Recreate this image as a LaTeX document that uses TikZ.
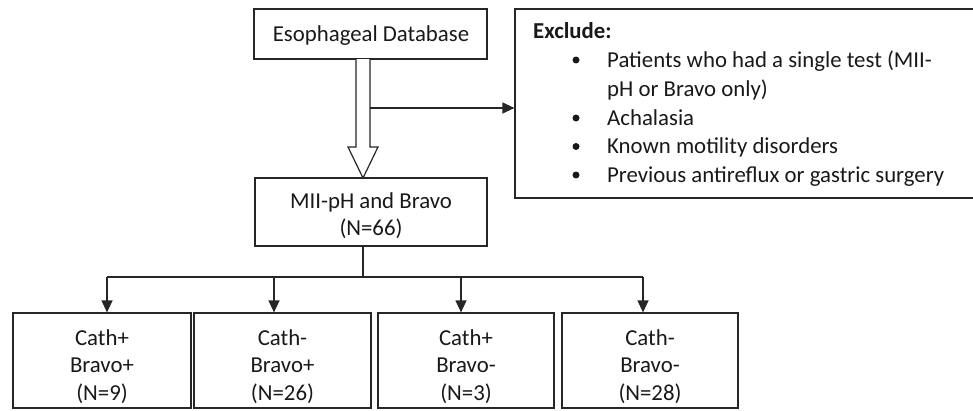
\documentclass[tikz,border=0pt]{standalone}
\usepackage{fontspec}
\setmainfont{Carlito}
\usetikzlibrary{arrows.meta,calc}
\begin{document}
\begin{tikzpicture}[x=1pt,y=-1pt,
  every node/.style={font=\fontsize{22.8}{27.5}\selectfont, text=black!90},
  box/.style={draw=black!85, line width=1.2pt, rectangle, inner sep=0pt, align=center},
  lbl/.style={inner sep=0pt, anchor=base west},
  arr/.style={draw=black!85, line width=1.2pt, -{Triangle[length=12pt,width=11pt]}},
  conn/.style={draw=black!85, line width=1.2pt}]
\useasboundingbox (0,0) rectangle (973,410);
% boxes
\node[box, minimum width=233pt, minimum height=50pt] (db) at (370.5,34) {};
\node[inner sep=0pt, anchor=base] (dbt) at (371,41) {Esophageal Database};
\node[box, minimum width=232pt, minimum height=68pt] (mii) at (371,212) {};
\node[inner sep=0pt, anchor=base] (miit1) at (371,208) {MII-pH and Bravo};
\node[inner sep=0pt, anchor=base] (miit2) at (371,235.5) {(N=66)};
\node[box, minimum width=462pt, minimum height=189pt] (excl) at (746,103.5) {};
\node[lbl] (ex0) at (533,38.5) {\bfseries Exclude:};
\node[lbl] (ex1) at (607,67) {Patients who had a single test (MII-};
\node[lbl] (ex1b) at (607,96) {pH or Bravo only)};
\node[lbl] (ex2) at (607,125) {Achalasia};
\node[lbl] (ex3) at (607,153.5) {Known motility disorders};
\node[lbl] (ex4) at (607,182) {Previous antireflux or gastric surgery};
\foreach \y/\n in {67/a,125/b,153.5/c,182/d}{
  \fill[black!90] (576,\y-7) circle (3.5pt);
}
% bottom boxes
\node[box, minimum width=178pt, minimum height=95pt] (b1) at (102,360.5) {};
\node[box, minimum width=177pt, minimum height=95pt] (b2) at (282.5,360.5) {};
\node[box, minimum width=176pt, minimum height=95pt] (b3) at (466,360.5) {};
\node[box, minimum width=176pt, minimum height=95pt] (b4) at (650,360.5) {};
\foreach \b/\ta/\tb/\tc in {b1/Cath+/Bravo+/(N=9), b2/Cath-/Bravo+/(N=26), b3/Cath+/Bravo-/(N=3), b4/Cath-/Bravo-/(N=28)}{
  \node[inner sep=0pt, anchor=base] at (\b.center |- 0,345) {\ta};
  \node[inner sep=0pt, anchor=base] at (\b.center |- 0,372.5) {\tb};
  \node[inner sep=0pt, anchor=base] at (\b.center |- 0,400) {\tc};
}
% hollow arrow
\draw[black!85, line width=1.2pt, line join=miter, fill=white]
  (356,59) -- (356,147) -- (348,147) -- (363,178) -- (378,147) -- (370,147) -- (370,59);
\coordinate (tap) at (370,108);
\draw[arr] (tap) -- (tap -| excl.west);
% split
\coordinate (split) at (363,277);
\coordinate (c1) at (107,277);
\coordinate (c2) at (274,277);
\coordinate (c3) at (461,277);
\coordinate (c4) at (643,277);
\draw[conn] (split |- mii.south) -- (split);
\draw[conn] (c1) -- (c4);
\draw[arr] (c1) -- (c1 |- b1.north);
\draw[arr] (c2) -- (c2 |- b2.north);
\draw[arr] (c3) -- (c3 |- b3.north);
\draw[arr] (c4) -- (c4 |- b4.north);
\end{tikzpicture}
\end{document}
